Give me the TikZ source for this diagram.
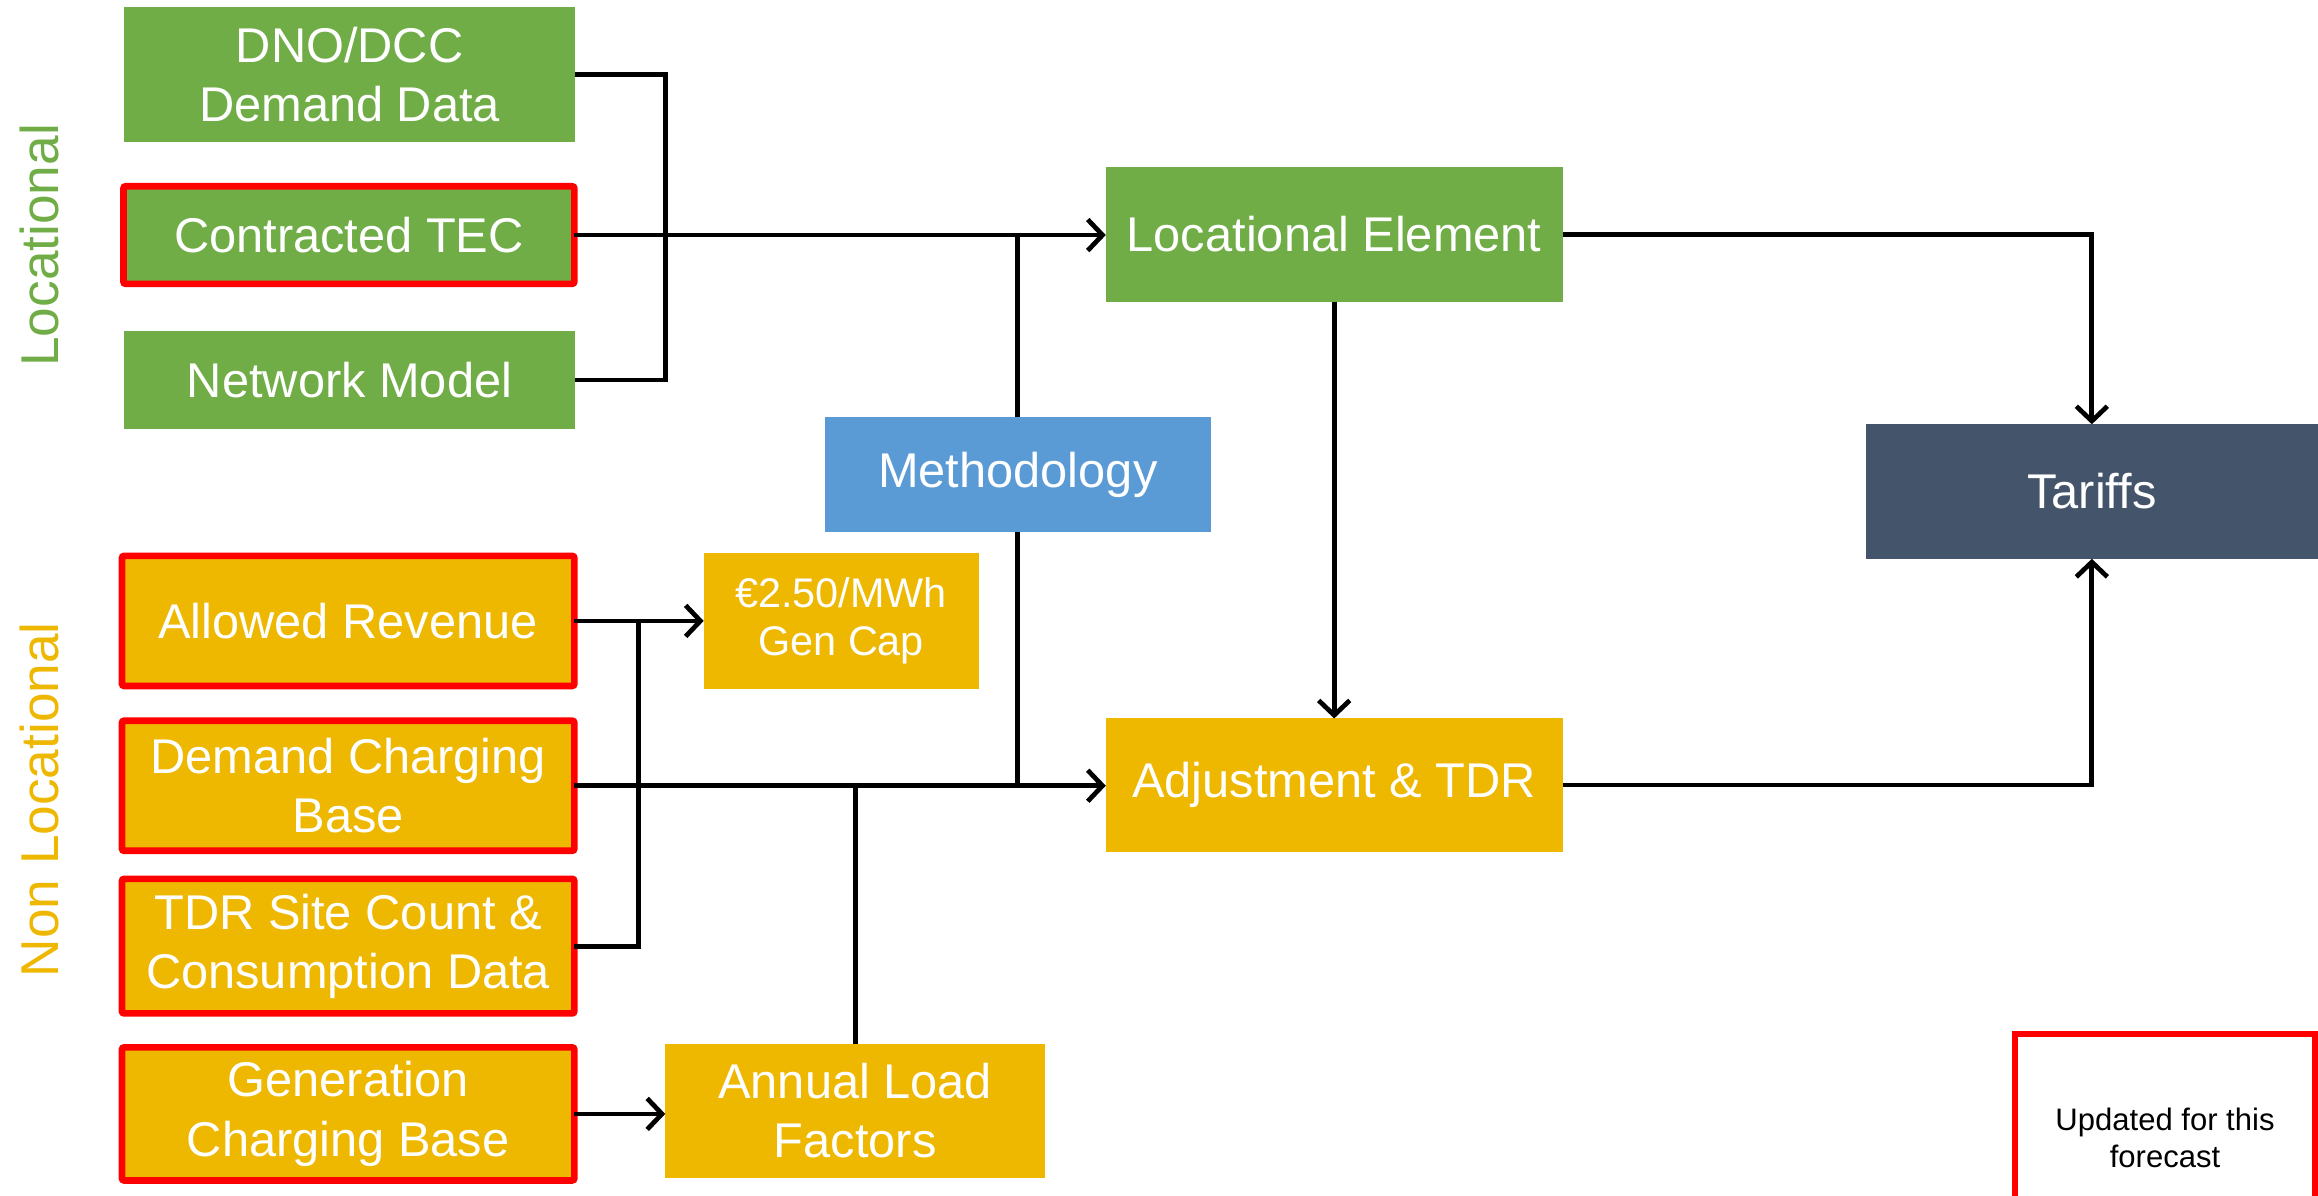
\documentclass[tikz,border=0pt]{standalone}
\usepackage{fontspec}
\setmainfont{Liberation Sans}
\usetikzlibrary{arrows.meta,calc}
\definecolor{cgreen}{HTML}{70AD47}
\definecolor{cyellow}{HTML}{EEB700}
\definecolor{cblue}{HTML}{5B9BD5}
\definecolor{cdark}{HTML}{44546A}
\definecolor{cred}{HTML}{FF0000}
\tikzset{
  box/.style={rectangle, inner sep=2pt, outer sep=0pt, text=white, align=center,
    font=\fontsize{33}{40}\selectfont},
  gbox/.style={box, fill=cgreen},
  ybox/.style={box, fill=cyellow},
  redb/.style={draw=cred, line width=4.5pt, rounded corners=1.5pt},
  conn/.style={line width=3.2pt, black},
  arr/.style={conn, -{Straight Barb[length=10pt,width=21pt]}},
}
\begin{document}
\begin{tikzpicture}[x=1pt,y=-1pt]
\useasboundingbox (0,0) rectangle (1568,809);
\clip (0,0) rectangle (1568,809);
\fill[white] (0,0) rectangle (1568,809);

% side labels
\node[rotate=90, text=cgreen, font=\fontsize{36}{40}\selectfont, inner sep=0pt] (lblloc) at (27,166) {Locational};
\node[rotate=90, text=cyellow, font=\fontsize{36}{40}\selectfont, inner sep=0pt] (lblnon) at (27,541) {Non Locational};

% left column locational
\node[gbox, minimum width=305pt, minimum height=91pt] (dno) at (236.5,50.5) {DNO/DCC\\Demand Data};
\node[gbox, redb, minimum width=305pt, minimum height=66pt] (tec) at (236,159) {Contracted TEC};
\node[gbox, minimum width=305pt, minimum height=66pt] (net) at (236.5,257) {Network Model};

% left column non locational
\node[ybox, redb, minimum width=306pt, minimum height=88pt] (ar) at (235.5,420) {Allowed Revenue};
\node[ybox, redb, minimum width=306pt, minimum height=88pt] (dcb) at (235.5,531.5) {Demand Charging\\Base};
\node[ybox, redb, minimum width=306pt, minimum height=91pt] (tdr) at (235.5,640) {TDR Site Count \&\\Consumption Data};
\node[ybox, redb, minimum width=306pt, minimum height=90pt] (gcb) at (235.5,753.5) {Generation\\Charging Base};

% middle
\node[ybox, minimum width=186pt, minimum height=92pt, font=\fontsize{28}{32}\selectfont] (gencap) at (569,420) {€2.50/MWh\\Gen Cap};
\node[ybox, minimum width=257pt, minimum height=91pt] (alf) at (578.5,751.5) {Annual Load\\Factors};
\node[box, fill=cblue, minimum width=261pt, minimum height=78pt] (meth) at (688.5,321) {Methodology};
\node[gbox, minimum width=309pt, minimum height=91pt] (loc) at (902.5,158.5) {Locational Element};
\node[ybox, minimum width=309pt, minimum height=90pt] (adj) at (902.5,531) {Adjustment \& TDR};
\node[box, fill=cdark, minimum width=306pt, minimum height=91pt] (tar) at (1415,332.5) {Tariffs};

% legend
\node[rectangle, draw=cred, line width=4.5pt, fill=white, minimum width=203pt, minimum height=141pt,
  align=center, font=\fontsize{21}{25}\selectfont] (upd) at (1464.5,770) {Updated for this\\forecast};

% connectors
\coordinate (b1) at (450,50.5);
\draw[conn] (dno.east) -- (b1) |- (net.east);
\draw[arr] (tec.east) -- (tec.east -| loc.west);
\draw[conn] (meth.north) -- (meth.north |- tec.east);
\draw[conn] (meth.south) -- (meth.south |- dcb.east);

\draw[arr] (ar.east) -- (ar.east -| gencap.west);
\coordinate (j1) at (432,420);
\draw[conn] (j1) |- (tdr.east);
\draw[arr] (dcb.east) -- (dcb.east -| adj.west);
\draw[conn] (alf.north) -- (alf.north |- dcb.east);
\draw[arr] (gcb.east) -- (gcb.east -| alf.west);

\draw[arr] (loc.south) -- (adj.north);
\draw[arr] (loc.east) -| (tar.north);
\draw[arr] (adj.east) -| (tar.south);
\end{tikzpicture}
\end{document}
